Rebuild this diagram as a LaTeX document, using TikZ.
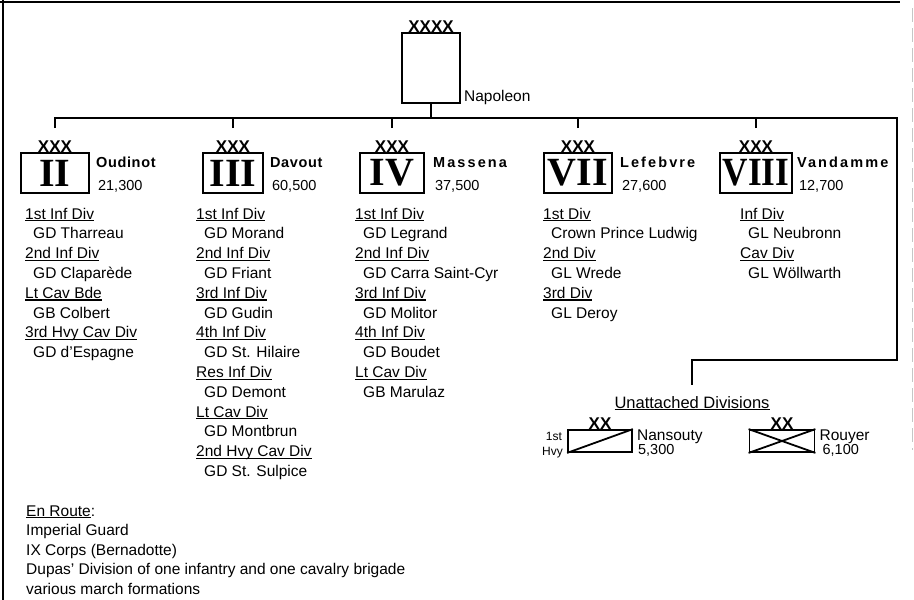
\documentclass[tikz,border=0pt]{standalone}
\usepackage{fontspec}
\setmainfont{Liberation Sans}
\newfontfamily\numfont{Liberation Serif}
\newfontfamily\cmdnarrow{Liberation Sans}[LetterSpace=4.5]
\newfontfamily\cmdwide{Liberation Sans}[LetterSpace=14.5]
\usetikzlibrary{calc}
\newcommand\hd[1]{\setbox0\hbox{#1}\rlap{\rule[-2.4pt]{\wd0}{1.3pt}}\box0}
\newcommand\nm[1]{\hspace*{8pt}#1}
\newcommand\divlist[4]{\foreach \txt [count=\k from 0] in {#4}{\node[listline] (#1-\k) at (#2,{#3+\k*19.8}) {\txt};}}
\newcommand\corps[8]{%
  \node[corpsbox, minimum width=#3] (#1) at (#2,173) {#4};
  \node[echelon] (#1-ech) at (#1.north) {XXX};
  \node[cmdtext, #5] (#1-cmd) at ($(#1.north east)+(#8,15)$) {#6};
  \node[strength] (#1-str) at ($(#1.north east)+({#8+2},38)$) {#7};
  \coordinate (#1-tick) at (#2,128);
}
\tikzset{
  conn/.style={line width=1.7pt},
  frame/.style={line width=1.8pt},
  corpsbox/.style={draw, line width=1.8pt, minimum height=40pt, inner sep=0pt,
    font=\numfont\bfseries\fontsize{40}{40}\selectfont},
  napbox/.style={draw, line width=1.8pt, minimum width=58pt, minimum height=70pt, inner sep=0pt},
  divbox/.style={draw, line width=1.8pt, minimum width=64pt, minimum height=22pt, inner sep=0pt},
  echelon/.style={anchor=base, inner sep=0pt, font=\bfseries\fontsize{17}{17}\selectfont},
  cmdn/.style={font=\cmdnarrow\bfseries\fontsize{14.5}{14.5}\selectfont},
  cmdw/.style={font=\cmdwide\bfseries\fontsize{14.5}{14.5}\selectfont},
  cmdtext/.style={anchor=base west, inner sep=0pt},
  strength/.style={anchor=base west, inner sep=0pt, font=\fontsize{14.5}{14.5}\selectfont},
  listline/.style={anchor=base west, inner sep=0pt, font=\fontsize{15.5}{19.8}\selectfont},
  plain/.style={anchor=base west, inner sep=0pt, font=\fontsize{15.5}{19.8}\selectfont},
  small/.style={anchor=base east, inner sep=0pt, font=\fontsize{12}{12}\selectfont},
}
\begin{document}
\begin{tikzpicture}[x=1pt,y=-1pt]
\useasboundingbox (0,0) rectangle (914,600);
% frame
\draw[frame] (0,2) -- (900,2);
\draw[frame] (3,0) -- (3,600);
\draw[gray!45, line width=1pt, dash pattern=on 14pt off 6pt] (912,8) -- (912,450);

% Napoleon
\node[napbox] (nap) at (431,68) {};
\node[echelon] (nap-ech) at (nap.north) {XXXX};
\node[plain] (nap-name) at ($(nap.south east)+(3,-2)$) {Napoleon};

% corps
\corps{II}{55}{68}{II}{cmdn}{Oudinot}{21,300}{6}
\corps{III}{233}{60}{III}{cmdn}{Davout}{60,500}{6}
\corps{IV}{392}{64}{IV}{cmdw}{Massena}{37,500}{8}
\corps{VII}{578}{68}{VII}{cmdw}{Lefebvre}{27,600}{7}
\corps{VIII}{756}{72}{\scalebox{0.88}[1]{VIII}}{cmdw}{Vandamme}{12,700}{4}

% connectors
\coordinate (barL) at (55,118);
\coordinate (barR) at (897,118);
\coordinate (unR) at (897,360);
\coordinate (unL) at (692,360);
\coordinate (un-tick) at (692,385);
\draw[conn] (nap.south) -- (nap.south |- barL);
\draw[conn] (II-tick) -- (barL) -- (barR) -- (unR) -- (unL) -- (un-tick);
\foreach \c in {III,IV,VII,VIII} \draw[conn] (\c-tick) -- (\c-tick |- barL);

% division lists
\divlist{IIl}{25}{219}{\hd{1st Inf Div}, \nm{GD Tharreau}, \hd{2nd Inf Div}, \nm{GD Claparède}, \hd{Lt Cav Bde}, \nm{GB Colbert}, \hd{3rd Hvy Cav Div}, \nm{GD d'Espagne}}
\divlist{IIIl}{196}{219}{\hd{1st Inf Div}, \nm{GD Morand}, \hd{2nd Inf Div}, \nm{GD Friant}, \hd{3rd Inf Div}, \nm{GD Gudin}, \hd{4th Inf Div}, \nm{GD St. Hilaire}, \hd{Res Inf Div}, \nm{GD Demont}, \hd{Lt Cav Div}, \nm{GD Montbrun}, \hd{2nd Hvy Cav Div}, \nm{GD St. Sulpice}}
\divlist{IVl}{355}{219}{\hd{1st Inf Div}, \nm{GD Legrand}, \hd{2nd Inf Div}, \nm{GD Carra Saint-Cyr}, \hd{3rd Inf Div}, \nm{GD Molitor}, \hd{4th Inf Div}, \nm{GD Boudet}, \hd{Lt Cav Div}, \nm{GB Marulaz}}
\divlist{VIIl}{543}{219}{\hd{1st Div}, \nm{Crown Prince Ludwig}, \hd{2nd Div}, \nm{GL Wrede}, \hd{3rd Div}, \nm{GL Deroy}}
\divlist{VIIIl}{740}{219}{\hd{Inf Div}, \nm{GL Neubronn}, \hd{Cav Div}, \nm{GL Wöllwarth}}

% unattached divisions
\node[anchor=base, inner sep=0pt, font=\fontsize{16.5}{16.5}\selectfont] (unatt) at (692,408) {\hd{Unattached Divisions}};
\node[divbox] (nans) at (600,441) {};
\draw[line width=1.8pt] (nans.south west) -- (nans.north east);
\node[echelon] (nans-ech) at (nans.north) {XX};
\node[small] (nans-1) at ($(nans.west)+(-5,-1)$) {1st};
\node[small] (nans-2) at ($(nans.south west)+(-4,3)$) {Hvy};
\node[plain] (nans-name) at ($(nans.north east)+(4,11)$) {Nansouty};
\node[strength] (nans-str) at ($(nans.south east)+(5,2)$) {5,300};

\node[divbox, minimum width=65pt] (rouy) at (782,441) {};
\draw[line width=1.8pt] (rouy.south west) -- (rouy.north east);
\draw[line width=1.8pt] (rouy.north west) -- (rouy.south east);
\node[echelon] (rouy-ech) at (rouy.north) {XX};
\node[plain] (rouy-name) at ($(rouy.north east)+(4,11)$) {Rouyer};
\node[strength] (rouy-str) at ($(rouy.south east)+(7,2)$) {6,100};

% en route
\node[plain] (er0) at (26,516) {\hd{En Route}:};
\node[plain] (er1) at (26,535.5) {Imperial Guard};
\node[plain] (er2) at (26,555) {IX Corps (Bernadotte)};
\node[plain] (er3) at (26,574.5) {Dupas' Division of one infantry and one cavalry brigade};
\node[plain] (er4) at (26,594) {various march formations};
\end{tikzpicture}
\end{document}
